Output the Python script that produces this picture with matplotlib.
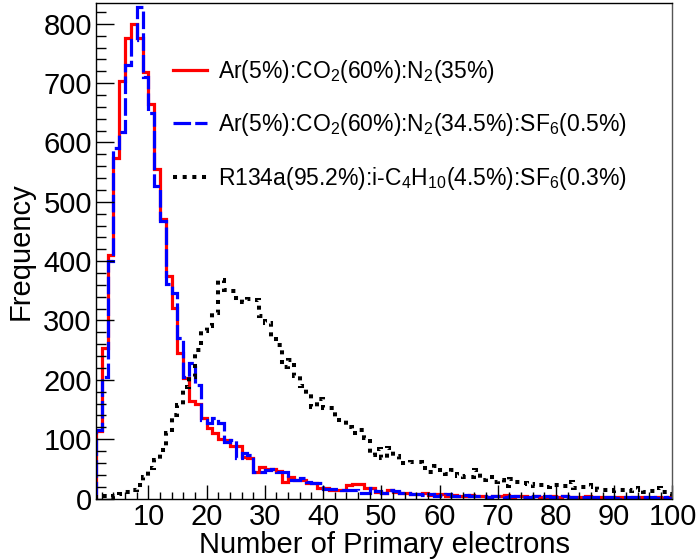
import numpy as np
import matplotlib
matplotlib.use("Agg")
import matplotlib.pyplot as plt
from matplotlib.ticker import MultipleLocator

plt.rcParams['font.family'] = ['Liberation Sans', 'DejaVu Sans']
plt.rcParams['mathtext.default'] = 'regular'

# bin edges 1..100 (unit bins)
bin_edges = np.arange(1, 101)

red_vals = [113, 253, 410, 574, 703, 776, 800, 776, 718, 664,
            555, 471, 375, 321, 245, 203, 165, 160, 135, 118,
            110, 100, 98, 88, 88, 70, 68, 45, 53, 49,
            50, 47, 28, 36, 31, 31, 26, 26, 17, 18,
            14, 14, 15, 22, 24, 25, 17, 17, 11, 10,
            14, 11, 9, 10, 8, 7, 9, 6, 8, 7,
            5, 6, 4, 5, 6, 4, 5, 3, 5, 4,
            6, 3, 4, 5, 3, 4, 3, 2, 4, 3,
            5, 3, 2, 3, 4, 2, 3, 2, 3, 2,
            3, 1, 2, 3, 2, 1, 2, 1, 2]

blue_vals = [115, 205, 401, 590, 617, 731, 773, 828, 711, 650,
             526, 467, 362, 346, 270, 205, 228, 191, 132, 127,
             135, 127, 96, 99, 68, 76, 73, 45, 45, 48,
             49, 45, 45, 32, 32, 34, 28, 26, 26, 16,
             16, 16, 15, 14, 14, 10, 10, 17, 12, 10,
             15, 12, 10, 9, 7, 8, 6, 7, 5, 6,
             7, 4, 5, 6, 4, 5, 4, 3, 5, 4,
             3, 4, 5, 3, 2, 4, 3, 4, 2, 3,
             4, 2, 3, 2, 3, 2, 2, 3, 2, 1,
             2, 3, 2, 1, 2, 2, 1, 2, 1]

black_vals = [3, 4, 3, 5, 8, 11, 14, 23, 36, 51,
              65, 81, 110, 140, 158, 188, 205, 250, 283, 290,
              313, 368, 352, 349, 338, 332, 336, 335, 307, 296,
              273, 258, 222, 234, 207, 189, 176, 155, 168, 153,
              152, 132, 132, 120, 110, 115, 102, 73, 83, 68,
              85, 72, 60, 60, 62, 62, 51, 44, 54, 48,
              41, 48, 38, 37, 37, 48, 31, 37, 28, 31,
              21, 33, 28, 26, 24, 21, 22, 20, 23, 22,
              21, 28, 17, 19, 19, 23, 14, 15, 13, 15,
              14, 13, 14, 17, 11, 12, 17, 11, 8]

labels = [r'Ar(5%):CO$_2$(60%):N$_2$(35%)',
          r'Ar(5%):CO$_2$(60%):N$_2$(34.5%):SF$_6$(0.5%)',
          r'R134a(95.2%):i-C$_4$H$_{10}$(4.5%):SF$_6$(0.3%)']

fig = plt.figure(figsize=(6.99, 5.59), dpi=100)
ax = fig.add_axes([0.1373, 0.1082, 0.962 - 0.1373, 0.9946 - 0.1082])

ax.stairs(red_vals, bin_edges, color='#ff0000', linewidth=2.3, label=labels[0])
ax.stairs(blue_vals, bin_edges, color='#0000ff', linewidth=2.3,
          linestyle=(0, (5.5, 1.3)), label=labels[1])
ax.stairs(black_vals, bin_edges, color='black', linewidth=2.9,
          linestyle=(0, (1.0, 1.4)), label=labels[2])

ax.set_xlim(1, 100)
ax.set_ylim(0, 835)

ax.xaxis.set_major_locator(MultipleLocator(10))
ax.xaxis.set_minor_locator(MultipleLocator(2))
ax.yaxis.set_major_locator(MultipleLocator(100))
ax.yaxis.set_minor_locator(MultipleLocator(20))

ax.tick_params(axis='both', which='both', direction='in', top=False, right=False,
               labelsize=21, width=1)
ax.tick_params(axis='x', which='major', length=10, pad=3)
ax.tick_params(axis='x', which='minor', length=5)
ax.tick_params(axis='y', which='major', length=13, pad=3)
ax.tick_params(axis='y', which='minor', length=7)

for s in ax.spines.values():
    s.set_linewidth(1.0)
    s.set_color('black')
ax.spines['right'].set_color('#555555')

ax.set_xlabel('Number of Primary electrons', fontsize=21, labelpad=0.5)
ax.set_ylabel('Frequency', fontsize=21, labelpad=6)

leg = ax.legend(loc='upper left', bbox_to_anchor=(0.098, 0.931), frameon=False,
                fontsize=16.5, handlelength=1.5, handletextpad=0.45,
                labelspacing=1.15)

fig.savefig('out.png', dpi=100)
